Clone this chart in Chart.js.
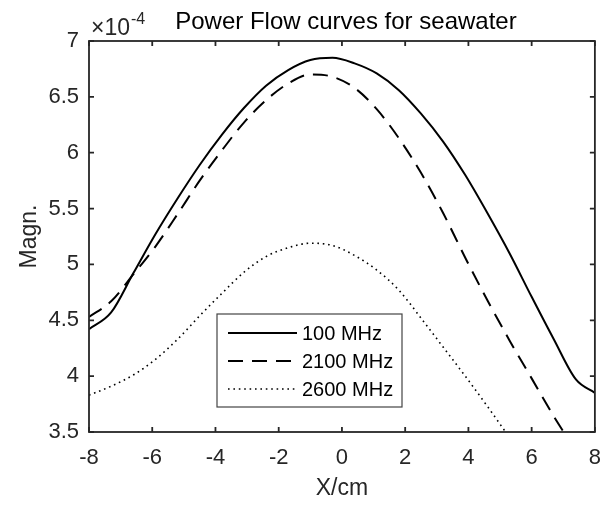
<!DOCTYPE html>
<html>
<head>
<meta charset="utf-8">
<script src="https://cdn.jsdelivr.net/npm/chart.js@4.4.1/dist/chart.umd.min.js"></script>
<style>
  html, body { margin: 0; padding: 0; background: #fff; }
</style>
</head>
<body>
<canvas id="pf_chart" width="614" height="506"></canvas>
<script>
// positions along the line (cm) and curve values (x 1e-4)
var xPos = [-8, -7.3, -6.6, -5.9, -5.2, -4.5, -3.8, -3.1, -2.4, -1.7, -1.0, -0.3,
            0.4, 1.1, 1.8, 2.5, 3.2, 3.9, 4.6, 5.3, 6.0, 6.7, 7.4, 8.0];
var mhz100  = [4.42, 4.57, 4.92, 5.27, 5.59, 5.89, 6.16, 6.40, 6.60, 6.74, 6.83, 6.85,
               6.80, 6.71, 6.56, 6.35, 6.10, 5.80, 5.46, 5.10, 4.71, 4.33, 3.97, 3.85];
var mhz2100 = [4.53, 4.67, 4.91, 5.16, 5.45, 5.75, 6.02, 6.27, 6.47, 6.62, 6.70, 6.68,
               6.58, 6.39, 6.13, 5.82, 5.46, 5.06, 4.68, 4.32, 3.98, 3.64, 3.33, 3.05];
var mhz2600 = [3.83, 3.91, 4.01, 4.15, 4.33, 4.54, 4.74, 4.93, 5.07, 5.15, 5.19, 5.17,
               5.08, 4.95, 4.77, 4.52, 4.26, 4.00, 3.73, 3.45, 3.17];
var seriesNames = ["100 MHz", "2100 MHz", "2600 MHz"];
var xTicks = [-8, -6, -4, -2, 0, 2, 4, 6, 8];
var yTicks = [3.5, 4, 4.5, 5, 5.5, 6, 6.5, 7];

var AXIS = '#262626';
var FONT = 'Liberation Sans, Arial, Helvetica, sans-serif';

function pairs(vals) {
    return vals.map(function (v, i) { return { x: xPos[i], y: v }; });
}

// box, inward ticks, legend, title and exponent, MATLAB style
var matlabAxes = {
    id: 'matlabAxes',
    afterDatasetsDraw: function (chart) {
        var ctx = chart.ctx, a = chart.chartArea;
        var xs = chart.scales.x, ys = chart.scales.y;
        ctx.save();
        ctx.strokeStyle = AXIS;
        ctx.lineWidth = 1.8;
        ctx.strokeRect(a.left, a.top, a.right - a.left, a.bottom - a.top);
        ctx.beginPath();
        xTicks.forEach(function (t) {
            var px = xs.getPixelForValue(t);
            ctx.moveTo(px, a.bottom); ctx.lineTo(px, a.bottom - 5);
            ctx.moveTo(px, a.top); ctx.lineTo(px, a.top + 5);
        });
        yTicks.forEach(function (t) {
            var py = ys.getPixelForValue(t);
            ctx.moveTo(a.left, py); ctx.lineTo(a.left + 5, py);
            ctx.moveTo(a.right, py); ctx.lineTo(a.right - 5, py);
        });
        ctx.stroke();

        // legend
        var lx = 217, ly = 314, lw = 185, lh = 93;
        ctx.fillStyle = '#fff';
        ctx.fillRect(lx, ly, lw, lh);
        ctx.strokeStyle = '#444';
        ctx.lineWidth = 1.2;
        ctx.strokeRect(lx, ly, lw, lh);
        var rows = [333, 361, 389];
        chart.data.datasets.forEach(function (ds, i) {
            ctx.beginPath();
            ctx.strokeStyle = ds.borderColor;
            ctx.lineWidth = ds.borderWidth;
            ctx.setLineDash(ds.borderDash || []);
            ctx.moveTo(228, rows[i]); ctx.lineTo(297, rows[i]);
            ctx.stroke();
            ctx.setLineDash([]);
            ctx.fillStyle = '#000';
            ctx.font = '20px ' + FONT;
            ctx.textBaseline = 'middle';
            ctx.textAlign = 'left';
            ctx.fillText(seriesNames[i], 302, rows[i] + 1);
        });

        // title and exponent label
        ctx.fillStyle = '#000';
        ctx.font = '24px ' + FONT;
        ctx.textBaseline = 'alphabetic';
        ctx.textAlign = 'center';
        ctx.fillText('Power Flow curves for seawater', (a.left + a.right) / 2 + 4, 29);
        ctx.fillStyle = AXIS;
        ctx.textAlign = 'left';
        ctx.font = '23px ' + FONT;
        var w = ctx.measureText('\u00d710').width;
        ctx.fillText('\u00d710', 91, 35);
        ctx.font = '16px ' + FONT;
        ctx.fillText('-4', 91 + w + 1, 24);
        ctx.restore();
    }
};

new Chart(document.getElementById('pf_chart').getContext('2d'), {
    type: 'line',
    data: {
        datasets: [{
            label: seriesNames[0],
            data: pairs(mhz100),
            borderColor: '#000',
            borderWidth: 2,
            pointRadius: 0,
            cubicInterpolationMode: 'monotone',
            clip: 0
        }, {
            label: seriesNames[1],
            data: pairs(mhz2100),
            borderColor: '#000',
            borderWidth: 2,
            borderDash: [15, 9],
            pointRadius: 0,
            cubicInterpolationMode: 'monotone',
            clip: 0
        }, {
            label: seriesNames[2],
            data: pairs(mhz2600),
            borderColor: '#000',
            borderWidth: 1.6,
            borderDash: [1.6, 3.8],
            pointRadius: 0,
            cubicInterpolationMode: 'monotone',
            clip: 0
        }]
    },
    options: {
        responsive: false,
        animation: false,
        layout: { padding: { top: 41, right: 12, left: 0, bottom: 0 } },
        plugins: { legend: { display: false }, tooltip: { enabled: false } },
        scales: {
            x: {
                type: 'linear',
                min: -8,
                max: 8,
                afterBuildTicks: function (s) { s.ticks = xTicks.map(function (v) { return { value: v }; }); },
                afterFit: function (s) { s.height = 74; },
                grid: { display: false, drawTicks: false, tickLength: 0 },
                border: { display: false },
                ticks: {
                    color: AXIS, padding: 13, maxRotation: 0, autoSkip: false,
                    font: { family: FONT, size: 22 },
                    callback: function (v) { return String(v); }
                },
                title: {
                    display: true, text: 'X/cm', color: AXIS,
                    font: { family: FONT, size: 23 },
                    padding: { top: 0, bottom: 4 }
                }
            },
            y: {
                min: 3.5,
                max: 7,
                afterBuildTicks: function (s) { s.ticks = yTicks.map(function (v) { return { value: v }; }); },
                afterFit: function (s) { s.width = 89; },
                grid: { display: false, drawTicks: false, tickLength: 0 },
                border: { display: false },
                ticks: {
                    color: AXIS, padding: 10, autoSkip: false,
                    font: { family: FONT, size: 22 },
                    callback: function (v) { return String(v); }
                },
                title: {
                    display: true, text: 'Magn.', color: AXIS,
                    font: { family: FONT, size: 23 },
                    padding: { top: 16, bottom: 0 }
                }
            }
        }
    },
    plugins: [matlabAxes]
});
</script>
</body>
</html>
